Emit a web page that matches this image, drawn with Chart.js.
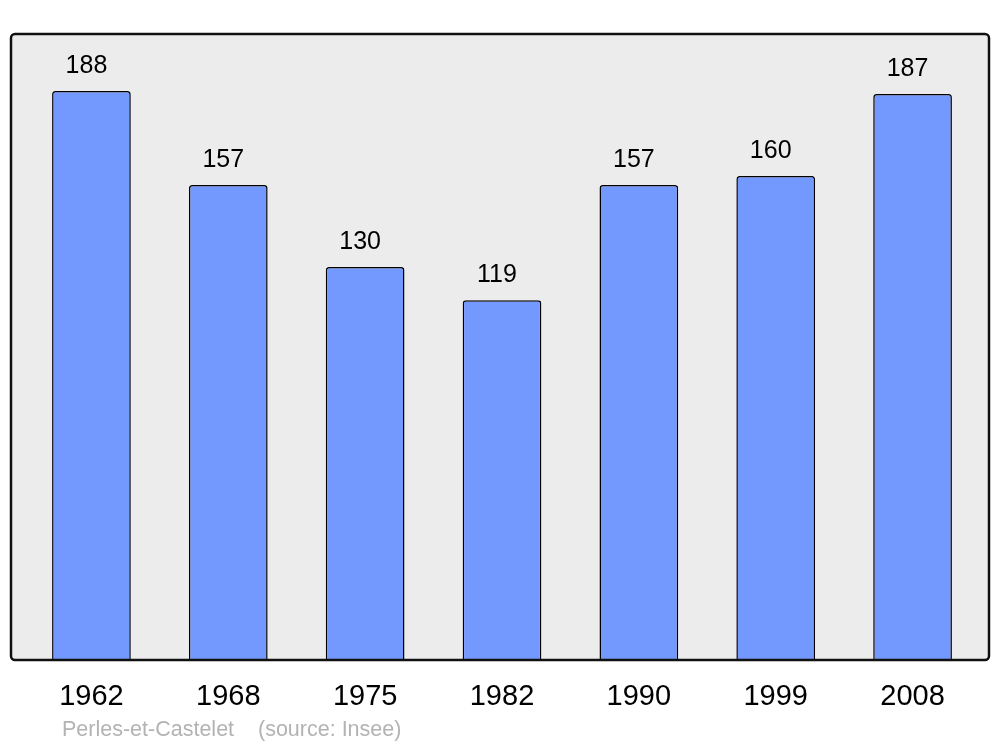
<!DOCTYPE html>
<html>
<head>
<meta charset="utf-8">
<script src="https://cdn.jsdelivr.net/npm/chart.js@4"></script>
<style>
  html, body { margin: 0; padding: 0; background: #fff; }
</style>
</head>
<body>
<canvas id="pop" width="1000" height="747"></canvas>
<script>
const years = ['1962', '1968', '1975', '1982', '1990', '1999', '2008'];
const population = [188, 157, 130, 119, 157, 160, 187];
const place = 'Perles-et-Castelet';
const source = '(source: Insee)';

// grey frame behind the bars, outline drawn over them
const frame = {
  id: 'frame',
  beforeDraw(chart) {
    const ctx = chart.ctx;
    ctx.save();
    ctx.beginPath();
    ctx.roundRect(11, 34, 978, 626, 4);
    ctx.fillStyle = '#ececec';
    ctx.fill();
    ctx.restore();
  },
  afterDatasetsDraw(chart) {
    const ctx = chart.ctx;
    ctx.save();
    ctx.beginPath();
    ctx.roundRect(11, 34, 978, 626, 4);
    ctx.lineWidth = 2.5;
    ctx.strokeStyle = '#111';
    ctx.stroke();

    // values above the bars (sit a little left of centre in the original)
    ctx.font = '25px "Liberation Sans", Arial, sans-serif';
    ctx.fillStyle = '#000';
    ctx.textAlign = 'center';
    ctx.textBaseline = 'middle';
    chart.getDatasetMeta(0).data.forEach((bar, i) => {
      ctx.fillText(population[i], bar.x - 5, bar.y - 25);
    });

    // footer
    ctx.font = '21.5px "Liberation Sans", Arial, sans-serif';
    ctx.fillStyle = '#b3b3b3';
    ctx.textAlign = 'left';
    ctx.fillText(place, 62, 730);
    ctx.fillText(source, 258, 730);
    ctx.restore();
  }
};

new Chart(document.getElementById('pop'), {
  type: 'bar',
  data: {
    labels: years,
    datasets: [{
      data: population,
      backgroundColor: '#7399ff',
      borderColor: '#000',
      borderWidth: 1.5,
      borderSkipped: false,
      borderRadius: { topLeft: 3, topRight: 3, bottomLeft: 0, bottomRight: 0 },
      categoryPercentage: 1,
      barPercentage: 0.575
    }]
  },
  options: {
    responsive: false,
    animation: false,
    layout: { padding: { left: 23, right: 19, top: 34, bottom: 23 } },
    plugins: { legend: { display: false }, tooltip: { enabled: false } },
    scales: {
      x: {
        grid: { display: false },
        border: { display: false },
        ticks: {
          color: '#000',
          padding: 10,
          maxRotation: 0,
          font: { family: '"Liberation Sans", Arial, sans-serif', size: 29 }
        }
      },
      y: {
        display: false,
        min: 0,
        max: 206.8
      }
    }
  },
  plugins: [frame]
});
</script>
</body>
</html>
